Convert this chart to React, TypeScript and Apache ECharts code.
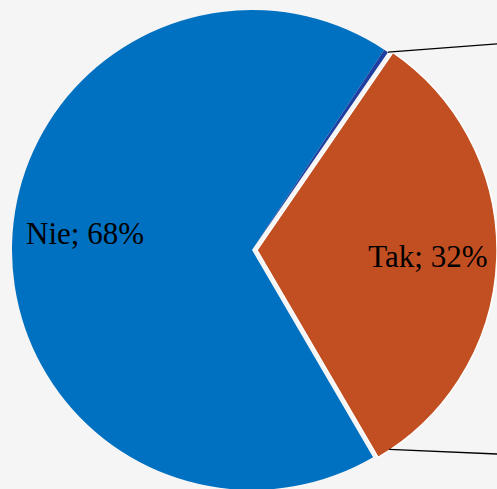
import React, { useEffect, useRef } from "react";
import * as echarts from "echarts";

const categories = ["Tak", "Nie", "Inne"];
const values = [32, 67.7, 0.3];
const sliceColors = ["#C24F22", "#0070C0", "#1F3FA0"];
const explodedIndex = 0;

const CX = 252;
const CY = 250;
const R = 240;
const START_ANGLE = 55.5; // degrees, ECharts convention
const BG = "#F5F5F5";

function pointAt(compassDeg: number, r: number) {
  const a = (compassDeg * Math.PI) / 180;
  return [CX + r * Math.sin(a), CY - r * Math.cos(a)];
}

export default function App() {
  const ref = useRef<HTMLDivElement>(null);

  useEffect(() => {
    document.body.style.margin = "0";
    const chart = echarts.init(ref.current!, null, { renderer: "svg" });
    const total = values.reduce((s, v) => s + v, 0);
    const takStartCompass = 90 - START_ANGLE;
    const top = pointAt(takStartCompass, R);
    const bottom = pointAt(145.5, 242);

    const mainData = categories.map((name, i) => {
      const style: any = {
        color: sliceColors[i],
        borderColor: i === explodedIndex ? "#FFFFFF" : sliceColors[i],
        borderWidth: i === explodedIndex ? 1.5 : 0,
      };
      return {
        name,
        value: values[i],
        selected: i === explodedIndex,
        itemStyle: style,
        select: { itemStyle: style },
        emphasis: { itemStyle: style },
      };
    });

    const labelOffsets: Record<string, number[]> = {
      Tak: [-5, 2],
      Nie: [4, -12],
    };

    const labelData = categories.map((name, i) => ({
      name,
      value: values[i],
      selected: i === explodedIndex,
      itemStyle: { color: "rgba(0,0,0,0)" },
      select: { itemStyle: { color: "rgba(0,0,0,0)" } },
      label: {
        show: values[i] / total > 0.01,
        offset: labelOffsets[name] || [0, 0],
      },
    }));

    chart.setOption({
      animation: false,
      backgroundColor: BG,
      series: [
        {
          type: "pie",
          center: [CX, CY],
          radius: [0, R],
          startAngle: START_ANGLE,
          clockwise: true,
          selectedMode: "single",
          selectedOffset: 5,
          silent: true,
          label: { show: false },
          labelLine: { show: false },
          data: mainData,
          z: 2,
        },
        {
          type: "pie",
          center: [CX, CY],
          radius: [R * 0.4, R],
          startAngle: START_ANGLE,
          clockwise: true,
          selectedMode: "single",
          selectedOffset: 5,
          silent: true,
          labelLine: { show: false },
          label: {
            show: true,
            position: "inside",
            color: "#000000",
            fontFamily: "Liberation Serif",
            fontSize: 31,
            formatter: (p: any) => `${p.name}; ${Math.round(p.percent)}%`,
          },
          data: labelData,
          z: 3,
        },
      ],
      graphic: [
        {
          type: "line",
          z: 100,
          shape: { x1: top[0], y1: top[1], x2: 520, y2: 42 },
          style: { stroke: "#000000", lineWidth: 1.3 },
        },
        {
          type: "line",
          z: 100,
          shape: { x1: bottom[0], y1: bottom[1], x2: 520, y2: 455 },
          style: { stroke: "#000000", lineWidth: 1.3 },
        },
      ],
    });
    return () => chart.dispose();
  }, []);

  return (
    <div
      ref={ref}
      style={{ position: "absolute", left: 0, top: 0, width: 497, height: 489 }}
    />
  );
}
